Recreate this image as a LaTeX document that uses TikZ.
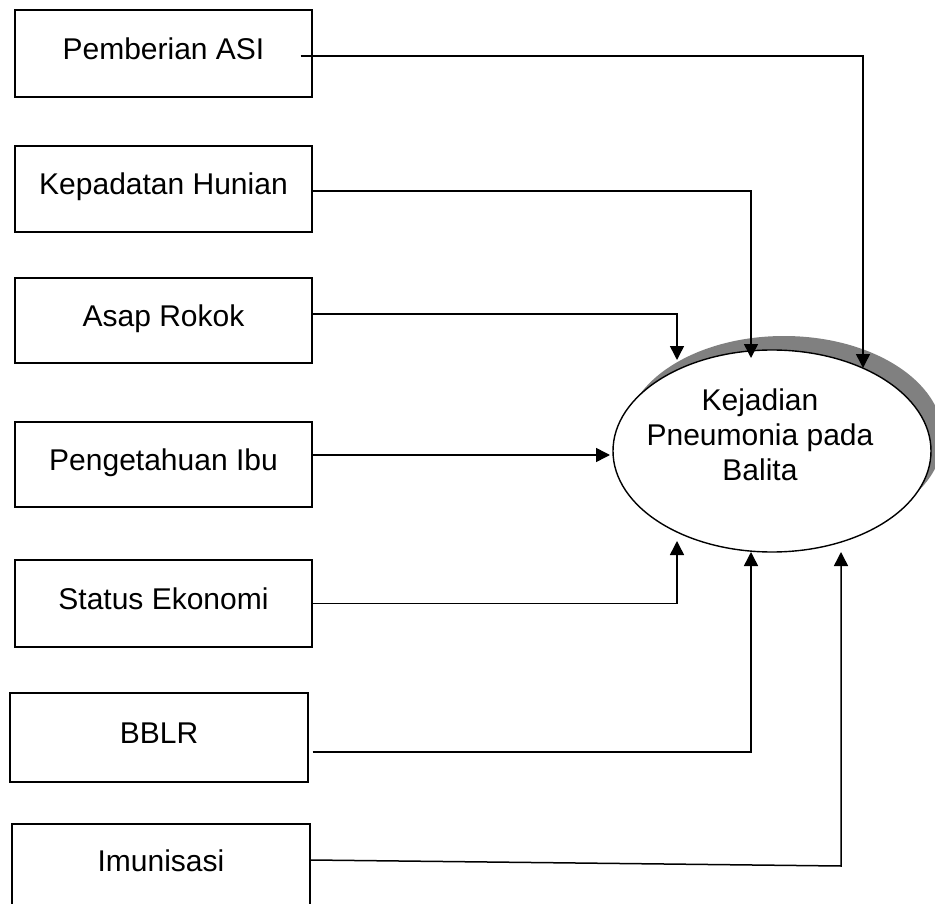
\documentclass[tikz,border=0pt]{standalone}
\usepackage{fontspec}
\setmainfont{Liberation Sans}
\usetikzlibrary{arrows.meta,shapes.geometric}
\begin{document}
\begin{tikzpicture}[x=1pt,y=-1pt,
  every node/.style={font=\fontsize{30}{35}\selectfont},
  factor/.style={draw,line width=1.4pt,inner sep=0pt,minimum width=297pt,
    minimum height=86pt,text height=21pt,text depth=9pt},
  conn/.style={line width=1.5pt,-{Triangle[width=14pt,length=14pt]}}]
\useasboundingbox (0,0) rectangle (935,904);
% shadow and ellipse
\fill[black!50] (784,437) ellipse [x radius=159pt,y radius=101pt];
\node[ellipse,draw,fill=white,line width=1.4pt,minimum width=318pt,minimum height=202pt,inner sep=0pt] (k) at (772,451) {};
\node[align=center,inner sep=0pt] (kt) at (760,435) {Kejadian\\Pneumonia pada\\Balita};
% boxes
\node[factor,minimum height=87pt] (b1) at (163.5,53.5) {Pemberian ASI};
\node[factor] (b2) at (163.5,189) {Kepadatan Hunian};
\node[factor,minimum height=85pt] (b3) at (163.5,320.5) {Asap Rokok};
\node[factor,minimum height=85pt] (b4) at (163.5,464.5) {Pengetahuan Ibu};
\node[factor,minimum height=87pt] (b5) at (163.5,603.5) {Status Ekonomi};
\node[factor,minimum width=298pt,minimum height=89pt] (b6) at (159,737.5) {BBLR};
\node[factor,minimum width=298pt,minimum height=82pt] (b7) at (161,865) {Imunisasi};
% tip coordinates
\coordinate (t1) at (863,368);
\coordinate (t2) at (751,358);
\coordinate (t3) at (677,360);
\coordinate (t4) at (610,455);
\coordinate (t5) at (677,541);
\coordinate (t6) at (751,552);
\coordinate (t7) at (841,552);
\coordinate (m7) at (841,866);
% connectors
\draw[conn] ([xshift=-12pt,yshift=-2.5pt]b1.east) -| (t1);
\draw[conn] ([yshift=-2pt]b2.east) -| (t2);
\draw[conn] ([yshift=6.5pt]b3.east) -| (t3);
\draw[conn] ([yshift=9.5pt]b4.east) -- (t4);
\draw[conn] (b5.east) -| (t5);
\draw[conn] ([xshift=4pt,yshift=-14.5pt]b6.east) -| (t6);
\draw[conn] ([yshift=5pt]b7.east) -- (m7) -- (t7);
\end{tikzpicture}
\end{document}
